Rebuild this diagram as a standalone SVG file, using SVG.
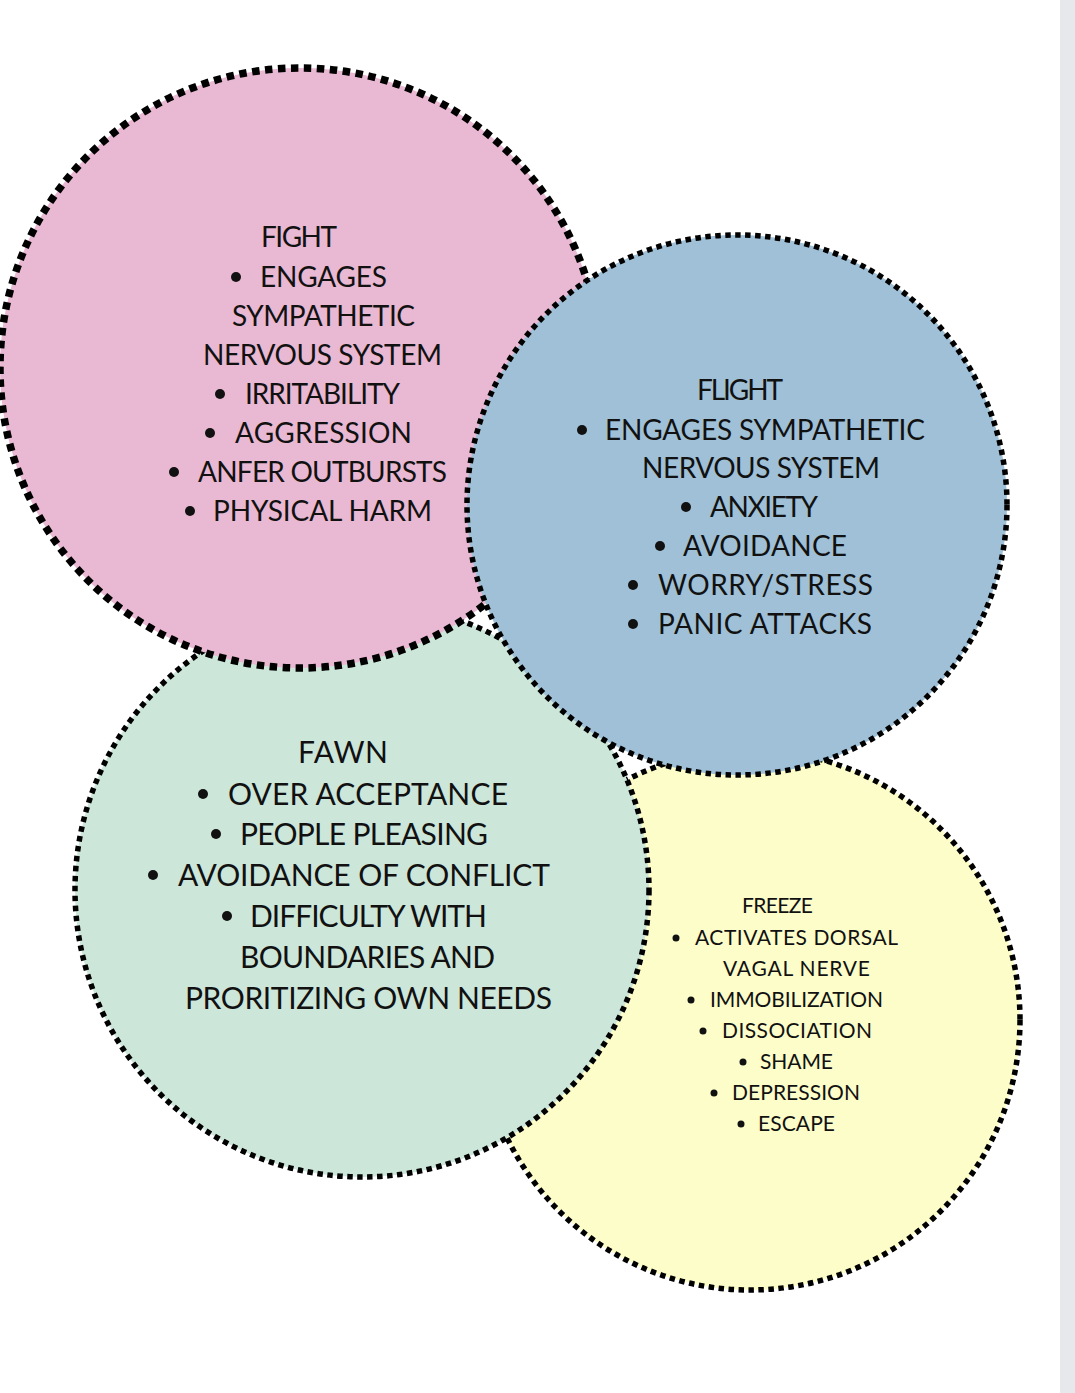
<svg xmlns="http://www.w3.org/2000/svg" width="1075" height="1393" viewBox="0 0 1075 1393">
<style>
.t{font-family:Lato,"Liberation Sans",sans-serif;fill:#111;}
.p{font-size:28px;}
.g{font-size:30px;}
.y{font-size:21px;}
.ring{stroke:#000;stroke-width:5.5;stroke-dasharray:5.5 4.5;}
.b{fill:#111;}
</style>
<rect x="0" y="0" width="1075" height="1393" fill="#ffffff"/>
<rect x="1060" y="0" width="15" height="1393" fill="#e6e8ec"/>

<g id="freeze">
<circle class="ring" cx="750" cy="1020" r="270" fill="#fdfdca"/>
<text class="t y" x="742" y="913" textLength="71">FREEZE</text>
<circle class="b" cx="676" cy="938" r="3.5"/>
<text class="t y" x="695" y="945" textLength="203">ACTIVATES DORSAL</text>
<text class="t y" x="723" y="976" textLength="147">VAGAL NERVE</text>
<circle class="b" cx="691" cy="1000" r="3.5"/>
<text class="t y" x="710" y="1007" textLength="173">IMMOBILIZATION</text>
<circle class="b" cx="703" cy="1031" r="3.5"/>
<text class="t y" x="722" y="1038" textLength="150">DISSOCIATION</text>
<circle class="b" cx="743" cy="1062" r="3.5"/>
<text class="t y" x="760" y="1069" textLength="73">SHAME</text>
<circle class="b" cx="714" cy="1093" r="3.5"/>
<text class="t y" x="732" y="1100" textLength="128">DEPRESSION</text>
<circle class="b" cx="741" cy="1124" r="3.5"/>
<text class="t y" x="758" y="1131" textLength="77">ESCAPE</text>
</g>

<g id="fawn">
<circle class="ring" cx="362" cy="890" r="287" fill="#cde6da"/>
<text class="t g" x="298" y="763" textLength="90">FAWN</text>
<circle class="b" cx="203" cy="794" r="5"/>
<text class="t g" x="228" y="805" textLength="280">OVER ACCEPTANCE</text>
<circle class="b" cx="216" cy="834" r="5"/>
<text class="t g" x="240" y="845" textLength="248">PEOPLE PLEASING</text>
<circle class="b" cx="153" cy="875" r="5"/>
<text class="t g" x="178" y="886" textLength="372">AVOIDANCE OF CONFLICT</text>
<circle class="b" cx="227" cy="916" r="5"/>
<text class="t g" x="250" y="927" textLength="237">DIFFICULTY WITH</text>
<text class="t g" x="240" y="968" textLength="255">BOUNDARIES AND</text>
<text class="t g" x="185" y="1009" textLength="367">PRORITIZING OWN NEEDS</text>
</g>

<g id="fight">
<circle cx="300" cy="368" r="300" fill="#e9b8d2" stroke="#000" stroke-width="7.5" stroke-dasharray="7.5 5.5"/>
<text class="t p" x="261" y="247" textLength="76">FIGHT</text>
<circle class="b" cx="236" cy="277" r="5"/>
<text class="t p" x="260" y="287" textLength="127">ENGAGES</text>
<text class="t p" x="232" y="326" textLength="183">SYMPATHETIC</text>
<text class="t p" x="203" y="365" textLength="239">NERVOUS SYSTEM</text>
<circle class="b" cx="220" cy="394" r="5"/>
<text class="t p" x="245" y="404" textLength="155">IRRITABILITY</text>
<circle class="b" cx="210" cy="433" r="5"/>
<text class="t p" x="235" y="443" textLength="177">AGGRESSION</text>
<circle class="b" cx="174" cy="472" r="5"/>
<text class="t p" x="198" y="482" textLength="249">ANFER OUTBURSTS</text>
<circle class="b" cx="190" cy="511" r="5"/>
<text class="t p" x="213" y="521" textLength="219">PHYSICAL HARM</text>
</g>

<g id="flight">
<circle class="ring" cx="737" cy="505" r="270" fill="#9fc0d6"/>
<text class="t p" x="697" y="400" textLength="86">FLIGHT</text>
<circle class="b" cx="582" cy="430" r="5"/>
<text class="t p" x="605" y="440" textLength="320">ENGAGES SYMPATHETIC</text>
<text class="t p" x="642" y="478" textLength="238">NERVOUS SYSTEM</text>
<circle class="b" cx="686" cy="507" r="5"/>
<text class="t p" x="710" y="517" textLength="108">ANXIETY</text>
<circle class="b" cx="660" cy="546" r="5"/>
<text class="t p" x="683" y="556" textLength="164">AVOIDANCE</text>
<circle class="b" cx="633" cy="585" r="5"/>
<text class="t p" x="658" y="595" textLength="215">WORRY/STRESS</text>
<circle class="b" cx="633" cy="624" r="5"/>
<text class="t p" x="658" y="634" textLength="214">PANIC ATTACKS</text>
</g>
</svg>
